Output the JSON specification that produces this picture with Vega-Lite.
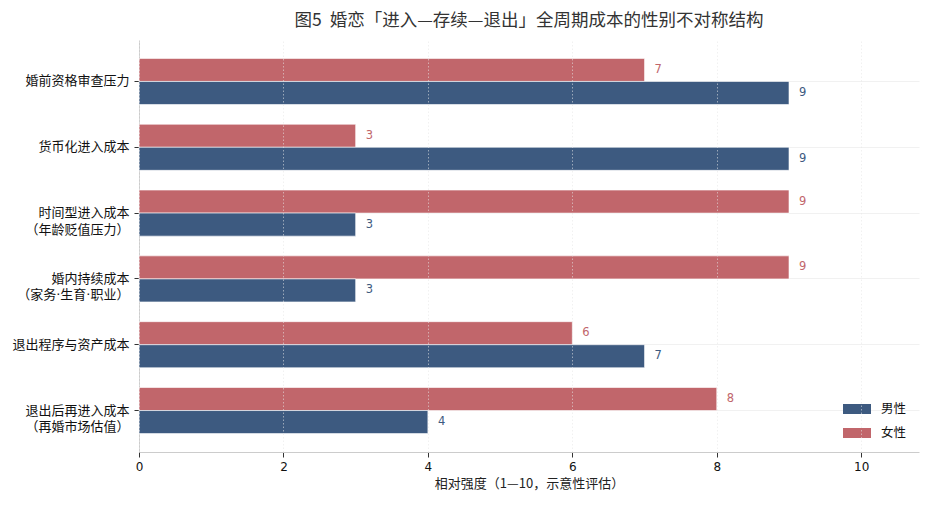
{
  "$schema": "https://vega.github.io/schema/vega-lite/v6.json",
  "width": 780,
  "height": 412,
  "autosize": {"type": "none"},
  "padding": {"left": 139, "top": 40, "right": 8, "bottom": 54},
  "background": "white",
  "config": {
    "font": "DejaVu Sans, Noto Sans CJK SC",
    "view": {"stroke": null}
  },
  "title": {
    "text": "图5\u00a0\u00a0婚恋「进入—存续—退出」全周期成本的性别不对称结构",
    "font": "Noto Sans CJK SC",
    "fontSize": 17.5,
    "fontWeight": "normal",
    "color": "#333333",
    "anchor": "middle",
    "offset": 11
  },
  "data": {
    "values": [
      {"category": "婚前资格审查压力", "gender": "女性", "value": 7},
      {"category": "婚前资格审查压力", "gender": "男性", "value": 9},
      {"category": "货币化进入成本", "gender": "女性", "value": 3},
      {"category": "货币化进入成本", "gender": "男性", "value": 9},
      {"category": "时间型进入成本\n（年龄贬值压力）", "gender": "女性", "value": 9},
      {"category": "时间型进入成本\n（年龄贬值压力）", "gender": "男性", "value": 3},
      {"category": "婚内持续成本\n（家务·生育·职业）", "gender": "女性", "value": 9},
      {"category": "婚内持续成本\n（家务·生育·职业）", "gender": "男性", "value": 3},
      {"category": "退出程序与资产成本", "gender": "女性", "value": 6},
      {"category": "退出程序与资产成本", "gender": "男性", "value": 7},
      {"category": "退出后再进入成本\n（再婚市场估值）", "gender": "女性", "value": 8},
      {"category": "退出后再进入成本\n（再婚市场估值）", "gender": "男性", "value": 4}
    ]
  },
  "encoding": {
    "y": {
      "field": "category",
      "type": "nominal",
      "sort": null,
      "scale": {"paddingInner": 0.3, "paddingOuter": 0.28},
      "axis": {
        "title": null,
        "labelExpr": "split(datum.label, '\\n')",
        "labelFontSize": 13,
        "labelColor": "#111111",
        "labelPadding": 5,
        "labelLineHeight": 16.5,
        "tickSize": 5,
        "tickColor": "#333333",
        "domainColor": "#cccccc",
        "grid": true,
        "gridColor": "#eeeeee",
        "gridWidth": 0.8,
        "labelLimit": 200
      }
    },
    "yOffset": {
      "field": "gender",
      "type": "nominal",
      "scale": {"domain": ["女性", "男性"], "paddingInner": 0, "paddingOuter": 0}
    }
  },
  "layer": [
    {
      "mark": {"type": "bar", "stroke": "white", "strokeWidth": 0.6},
      "encoding": {
        "x": {
          "field": "value",
          "type": "quantitative",
          "scale": {"domain": [0, 10.8], "nice": false},
          "axis": {
            "title": "相对强度（1—10，示意性评估）",
            "titleFont": "Noto Sans CJK SC",
            "titleFontSize": 13,
            "titleFontWeight": "normal",
            "titleColor": "#222222",
            "titlePadding": 5,
            "values": [0, 2, 4, 6, 8, 10],
            "format": "d",
            "labelFlush": false,
            "labelFontSize": 12,
            "labelColor": "#111111",
            "labelPadding": 4,
            "tickSize": 5,
            "tickColor": "#333333",
            "domainColor": "#cccccc",
            "grid": true,
            "gridColor": "#e6e6e6",
            "gridOpacity": 0.7,
            "gridDash": [1.5, 2],
            "gridWidth": 0.8,
            "zindex": 1
          }
        },
        "color": {
          "field": "gender",
          "type": "nominal",
          "scale": {"domain": ["男性", "女性"], "range": ["#3d5a80", "#c1666b"]},
          "legend": {
            "title": null,
            "orient": "bottom-right",
            "offset": 12,
            "labelFont": "Noto Sans CJK SC",
            "labelFontSize": 12.5,
            "labelColor": "#111111",
            "symbolType": "M-1.4,-0.5H1.4V0.5H-1.4Z",
            "symbolSize": 400,
            "symbolStrokeWidth": 0,
            "rowPadding": 7,
            "labelOffset": 14
          }
        }
      }
    },
    {
      "mark": {"type": "text", "align": "left", "baseline": "middle", "dx": 10, "fontSize": 11.5},
      "encoding": {
        "x": {"field": "value", "type": "quantitative"},
        "text": {"field": "value", "type": "quantitative"},
        "color": {"field": "gender", "type": "nominal", "legend": null}
      }
    }
  ]
}
